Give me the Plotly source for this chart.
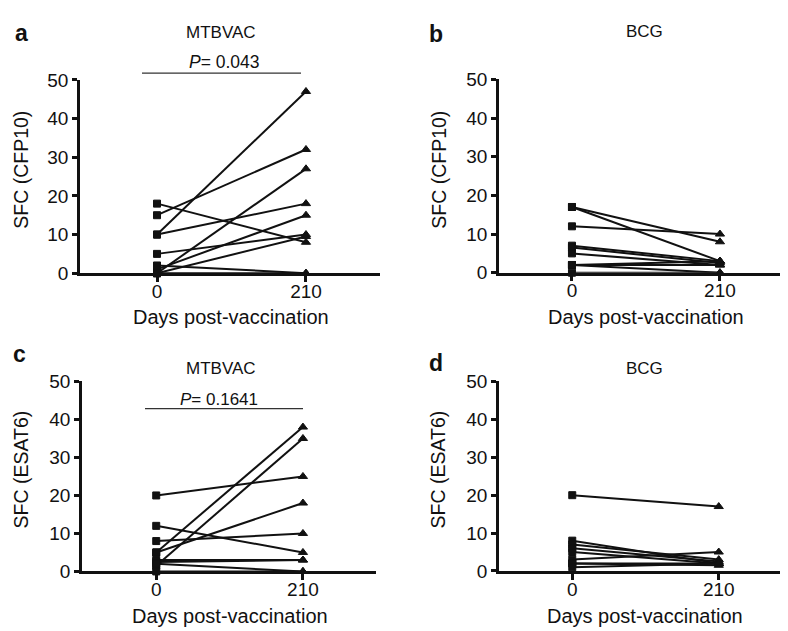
import plotly.graph_objects as go

W, H = 788, 631

# ---- data (SFC before at day 0 and after at day 210) ----
days = ["0", "210"]
a_day0 = [10, 15, 0, 10, 18, 1, 5, 0, 2, 0]
a_day210 = [47, 32, 27, 18, 8, 15, 10, 9.5, 0, 0]
b_day0 = [17, 17, 12, 7, 6.5, 5, 2, 2, 2, 0]
b_day210 = [8, 3, 10, 3, 2.5, 2, 3, 2, 0, 0]
c_day0 = [20, 12, 8, 5, 1.5, 5, 3, 2.5, 2, 0]
c_day210 = [25, 5, 10, 38, 35, 18, 3, 3, 0, 0]
d_day0 = [20, 8, 7, 6, 5, 3, 2, 2, 1]
d_day210 = [17, 2, 3, 2.5, 2, 5, 2, 1.5, 2]
yticks = [0, 10, 20, 30, 40, 50]

panels = [
    dict(key="a", d0=a_day0, d1=a_day210, vac="MTBVAC", ylab="SFC (CFP10)",
         xpx=(72, 372), ypx=(64, 264), xr=(-0.517, 1.497)),
    dict(key="b", d0=b_day0, d1=b_day210, vac="BCG", ylab="SFC (CFP10)",
         xpx=(491, 787), ypx=(63.5, 263.5), xr=(-0.493, 1.507)),
    dict(key="c", d0=c_day0, d1=c_day210, vac="MTBVAC", ylab="SFC (ESAT6)",
         xpx=(74, 368), ypx=(376, 572.5), xr=(-0.506, 1.498)),
    dict(key="d", d0=d_day0, d1=d_day210, vac="BCG", ylab="SFC (ESAT6)",
         xpx=(491, 784), ypx=(376, 572), xr=(-0.5, 1.5)),
]

def px(x):
    return x / W

def py(y):
    return 1 - y / H

FONT = "Liberation Sans, Arial, Helvetica, sans-serif"
fig = go.Figure()
layout = dict(width=W, height=H, margin=dict(l=0, r=0, t=0, b=0),
              plot_bgcolor="white", paper_bgcolor="white", showlegend=False,
              font=dict(family=FONT, color="#111"))
annotations = []
shapes = []

for i, p in enumerate(panels):
    n = "" if i == 0 else str(i + 1)
    xa, ya = "x" + n, "y" + n
    for v0, v1 in zip(p["d0"], p["d1"]):
        fig.add_trace(go.Scatter(
            x=[0, 1], y=[v0, v1], mode="lines+markers", xaxis=xa, yaxis=ya,
            line=dict(color="#111", width=2),
            marker=dict(symbol=["square", "triangle-up"], size=[7, 8], color="#111",
                        opacity=1, line=dict(color="#111", width=1)),
            cliponaxis=False, hoverinfo="skip"))
    axcommon = dict(showgrid=False, zeroline=False, showline=True, linecolor="#111",
                    linewidth=2.5, ticks="outside", ticklen=6, tickwidth=2.5,
                    tickcolor="#111", tickfont=dict(size=19, family=FONT, color="#111"))
    layout["xaxis" + n] = dict(axcommon, domain=[px(p["xpx"][0]), px(p["xpx"][1])],
                               range=list(p["xr"]), tickvals=[0, 1], ticktext=days,
                               anchor=ya, ticklabelstandoff=-7)
    layout["yaxis" + n] = dict(axcommon, domain=[py(p["ypx"][1]), py(p["ypx"][0])],
                               range=[0, 50], tickvals=yticks, anchor=xa, ticklen=5)

# titles / labels (pixel positions)
texts = [
    ("<b>a</b>", 13, 16, 23, 0), ("<b>b</b>", 428, 17, 23, 0),
    ("<b>c</b>", 11, 348, 23, 0), ("<b>d</b>", 428, 357, 23, 0),
    ("MTBVAC", 213, 15, 17, 0), ("BCG", 636, 14, 17, 0),
    ("MTBVAC", 213, 363, 17, 0), ("BCG", 636, 363, 17, 0),
    ("<i>P</i>= 0.043", 216, 45, 17.5, 0), ("<i>P</i>= 0.1641", 211, 395, 17, 0),
    ("Days post-vaccination", 223, 309, 20, 0), ("Days post-vaccination", 638, 309, 20, 0),
    ("Days post-vaccination", 222, 619, 20, 0), ("Days post-vaccination", 637, 619, 20, 0),
    ("SFC (CFP10)", 13, 157, 19.5, -90), ("SFC (CFP10)", 431, 157, 19.5, -90),
    ("SFC (ESAT6)", 13, 467, 19.5, -90), ("SFC (ESAT6)", 430, 467, 19.5, -90),
]
for t, x, y, s, ang in texts:
    annotations.append(dict(text=t, x=px(x), y=py(y), xref="paper", yref="paper",
                            showarrow=False, xanchor="center", yanchor="middle",
                            textangle=ang, font=dict(size=s, family=FONT, color="#111")))

for x0, x1, y in [(134, 293, 57), (137, 295, 404)]:
    shapes.append(dict(type="line", xref="paper", yref="paper", x0=px(x0), x1=px(x1),
                       y0=py(y), y1=py(y), line=dict(color="#333", width=1.2)))

layout["annotations"] = annotations
layout["shapes"] = shapes
fig.update_layout(**layout)
fig.write_html("out.html")
